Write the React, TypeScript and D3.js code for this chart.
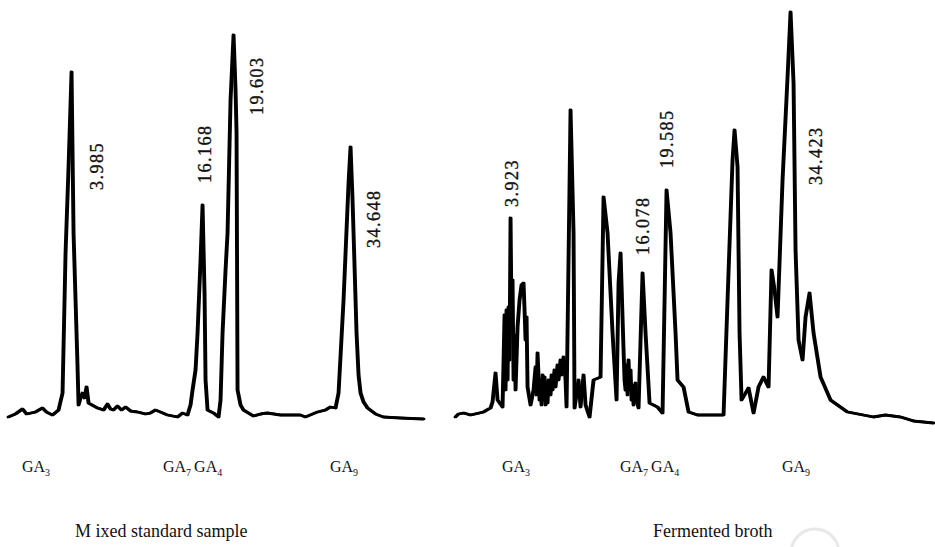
import React from 'react';
import * as d3 from 'd3';

// chromatogram traces: [time index, detector signal]
const standardTrace: [number, number][] = [
  [0, 3], [7, 6], [14, 11], [18, 6], [27, 8], [34, 12], [38, 8], [44, 5], [50, 10],
  [54, 27], [57, 167], [60, 253], [63, 348], [65, 187], [67, 120], [69, 53], [70, 15],
  [72, 22], [74, 27], [76, 22], [78, 33], [80, 17], [89, 12], [95, 10], [99, 16],
  [102, 11], [105, 10], [109, 14], [113, 10], [117, 13], [122, 9], [129, 8], [137, 6],
  [142, 7], [147, 10], [152, 8], [159, 5], [169, 3], [174, 7], [179, 5], [182, 15],
  [184, 30], [187, 50], [189, 87], [192, 160], [194, 215], [196, 127], [197, 40],
  [199, 10], [205, 7], [210, 3], [212, 20], [214, 87], [217, 150], [219, 187],
  [222, 320], [225, 385], [227, 330], [228, 287], [229, 30], [232, 15], [235, 10],
  [245, 4], [252, 6], [259, 7], [272, 5], [292, 5], [297, 3], [309, 8], [317, 10],
  [322, 13], [327, 12], [330, 27], [335, 120], [340, 237], [342, 273], [344, 220],
  [345, 187], [348, 87], [350, 45], [352, 27], [355, 18], [359, 12], [367, 6],
  [375, 3], [392, 2], [415, 1],
];

const brothTrace: [number, number][] = [
  [0, 3], [3, 6], [8, 7], [15, 5], [28, 8], [35, 12], [37, 18], [40, 47], [42, 20],
  [47, 13], [49, 105], [50, 30], [51, 110], [52, 40], [53, 113], [54, 60], [55, 202],
  [56, 100], [57, 140], [58, 40], [59, 85], [60, 30], [62, 93], [64, 120], [66, 135],
  [68, 137], [69, 110], [70, 80], [71, 103], [72, 33], [75, 15], [78, 30], [80, 53],
  [81, 25], [82, 67], [84, 20], [85, 40], [86, 15], [87, 45], [88, 20], [89, 43],
  [90, 15], [91, 38], [92, 17], [93, 40], [95, 25], [96, 45], [97, 30], [99, 50],
  [100, 33], [102, 55], [103, 40], [105, 60], [106, 45], [108, 63], [110, 40],
  [111, 13], [115, 310], [118, 187], [119, 12], [123, 40], [125, 13], [128, 45],
  [130, 15], [134, 3], [138, 40], [143, 42], [145, 43], [148, 223], [152, 187],
  [157, 87], [161, 20], [163, 137], [165, 167], [168, 70], [169, 40], [170, 30],
  [171, 55], [172, 25], [173, 60], [174, 30], [175, 50], [176, 20], [177, 35],
  [178, 15], [180, 37], [181, 20], [183, 12], [187, 147], [190, 87], [194, 17],
  [202, 13], [207, 7], [211, 230], [215, 187], [220, 87], [222, 40], [228, 33],
  [233, 8], [242, 5], [268, 5], [272, 120], [277, 260], [279, 290], [282, 253],
  [284, 87], [286, 20], [289, 25], [293, 32], [298, 7], [303, 33], [308, 43],
  [313, 33], [316, 150], [319, 130], [322, 103], [327, 240], [332, 343], [335, 408],
  [338, 337], [340, 170], [343, 80], [347, 60], [350, 103], [354, 127], [358, 87],
  [365, 43], [375, 20], [392, 8], [418, 3], [430, 5], [445, 3], [458, -1], [478, -3],
];

// retention time labels anchored at [time, signal]
const standardPeaks = [
  { text: '3.985', t: 89, s: 230 },
  { text: '16.168', t: 197, s: 237 },
  { text: '19.603', t: 249, s: 305 },
  { text: '34.648', t: 366, s: 172 },
];
const brothPeaks = [
  { text: '3.923', t: 57, s: 213 },
  { text: '16.078', t: 188, s: 165 },
  { text: '19.585', t: 212, s: 252 },
  { text: '34.423', t: 361, s: 235 },
];

// compound names under each panel: [main, subscript] pairs
const standardCompounds = [
  { t: 14, parts: [['GA', '3']] },
  { t: 155, parts: [['GA', '7'], ['GA', '4']] },
  { t: 322, parts: [['GA', '9']] },
];
const brothCompounds = [
  { t: 47, parts: [['GA', '3']] },
  { t: 165, parts: [['GA', '7'], ['GA', '4']] },
  { t: 327, parts: [['GA', '9']] },
];

const panels = [
  { trace: standardTrace, peaks: standardPeaks, compounds: standardCompounds, title: 'M ixed standard sample', left: 8, titleT: 67 },
  { trace: brothTrace, peaks: brothPeaks, compounds: brothCompounds, title: 'Fermented broth', left: 455, titleT: 198 },
];

const W = 935;
const H = 547;

const y = d3.scaleLinear().domain([0, 410]).range([420, 10]);

const Panel = ({ p }: { p: typeof panels[number] }) => {
  const x = d3.scaleLinear().domain([0, 480]).range([p.left, p.left + 480]);
  const line = d3
    .line<[number, number]>()
    .x((d) => x(d[0]))
    .y((d) => y(d[1]));
  const d = line(p.trace) || '';

  return (
    <g>
      {/* ink of the recorder pen: a second pass thickens the steep strokes */}
      <path d={d} fill="none" stroke="#000" strokeWidth={2.8} strokeLinejoin="round" strokeLinecap="round" />
      <path d={d} transform="translate(1.3,0)" fill="none" stroke="#000" strokeWidth={2.4} strokeLinejoin="round" strokeLinecap="round" />
      {p.peaks.map((pk) => (
        <text
          key={pk.text}
          transform={`translate(${x(pk.t)},${y(pk.s)}) rotate(-90)`}
          dy="0.36em"
          fontFamily="'Liberation Serif', serif"
          fontSize={18}
          letterSpacing={1.5}
          fill="#111"
          stroke="#111"
          strokeWidth={0.35}
        >
          {pk.text}
        </text>
      ))}
      {p.compounds.map((c, i) => (
        <text key={i} x={x(c.t)} y={472} fontFamily="'Liberation Serif', serif" fontSize={16} fill="#111">
          {c.parts.map(([main, sub], j) => (
            <React.Fragment key={j}>
              <tspan dx={j > 0 ? 3 : 0} dy={j > 0 ? -4 : 0}>{main}</tspan>
              <tspan fontSize={10} dy={4}>{sub}</tspan>
            </React.Fragment>
          ))}
        </text>
      ))}
      <text x={x(p.titleT)} y={537} fontFamily="'Liberation Serif', serif" fontSize={18} fill="#111">
        {p.title}
      </text>
    </g>
  );
};

export default function App() {
  return (
    <>
      <style>{`body{margin:0}`}</style>
      <svg width={W} height={H} style={{ display: 'block', background: '#fff' }}>
        <circle cx={815} cy={553} r={24} fill="none" stroke="#e8e8e8" strokeWidth={3} />
        {panels.map((p) => (
          <Panel key={p.title} p={p} />
        ))}
      </svg>
    </>
  );
}
